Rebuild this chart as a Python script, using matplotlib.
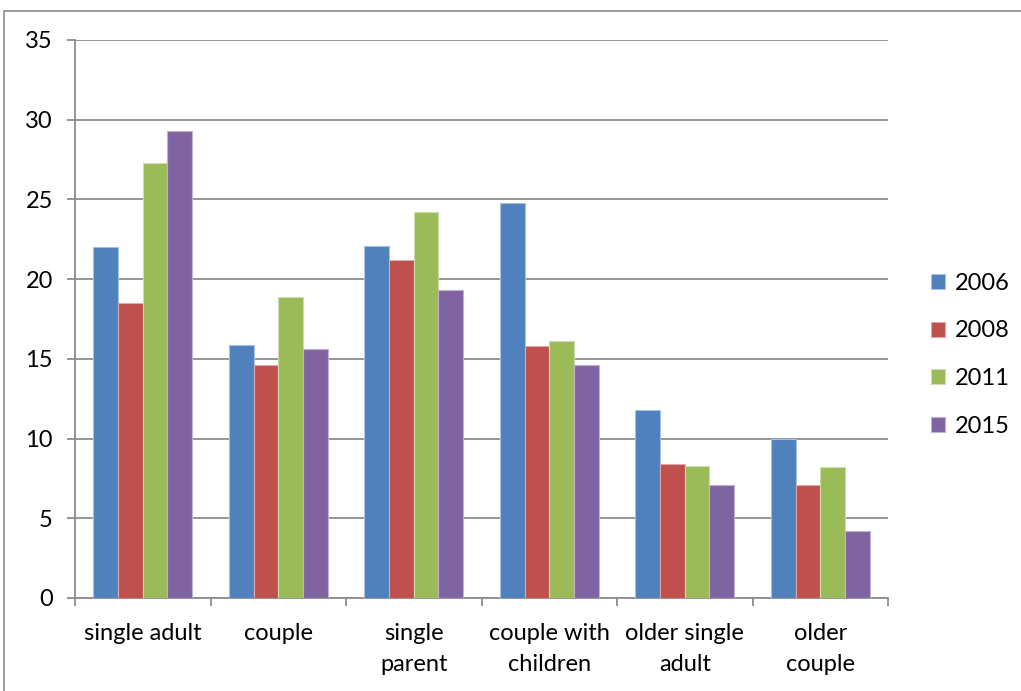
import numpy as np
import matplotlib.pyplot as plt
from matplotlib.patches import Rectangle

plt.rcParams['font.family'] = ['Lato', 'DejaVu Sans']

categories = ["single adult", "couple", "single\nparent", "couple with\nchildren",
              "older single\nadult", "older\ncouple"]
years = ["2006", "2008", "2011", "2015"]
v2006 = [22.0, 15.9, 22.1, 24.8, 11.8, 10.0]
v2008 = [18.5, 14.6, 21.2, 15.8, 8.4, 7.1]
v2011 = [27.3, 18.9, 24.2, 16.1, 8.3, 8.2]
v2015 = [29.3, 15.6, 19.3, 14.6, 7.1, 4.2]
series = [v2006, v2008, v2011, v2015]

colors = ["#4F81BD", "#C0504D", "#9BBB59", "#8064A2"]
edges = ["#A7C0DE", "#E0A8A6", "#CDDDAC", "#BFB1D0"]
grid_c = "#8C8C8C"
fs = 17

fig = plt.figure(figsize=(10.21, 6.91), dpi=100)
ax = fig.add_axes([75 / 1021, 93 / 691, 813 / 1021, 558 / 691])

# chart frame, open on the right and bottom edges
fig.patches.append(Rectangle((4 / 1021, -0.1), 1.2, 1.1 - 11 / 691,
                             transform=fig.transFigure, fill=False,
                             edgecolor="#8C8C8C", linewidth=1.2))

x = np.arange(len(categories))
w = 1 / 5.5
for i, (vals, c, e) in enumerate(zip(series, colors, edges)):
    ax.bar(x + (i - 1.5) * w, vals, width=w, color=c, edgecolor=e,
           linewidth=0.8, label=years[i], zorder=3)

ax.set_xlim(-0.5, len(categories) - 0.5)
ax.set_ylim(0, 35)
ax.set_yticks(np.arange(0, 36, 5))
ax.yaxis.grid(True, color=grid_c, linewidth=1.3, zorder=0)

ax.set_xticks(np.arange(-0.5, len(categories), 1))
ax.set_xticklabels([])
ax.set_xticks(x, minor=True)
ax.set_xticklabels(categories, minor=True, fontsize=fs, linespacing=1.6)
ax.tick_params(axis="x", which="minor", length=0, pad=18)
ax.tick_params(axis="x", which="major", length=6, width=1.3, color=grid_c)
ax.tick_params(axis="y", length=6, width=1.3, color=grid_c, labelsize=fs, pad=10)

for s in ["top", "right"]:
    ax.spines[s].set_visible(False)
for s in ["left", "bottom"]:
    ax.spines[s].set_color(grid_c)
    ax.spines[s].set_linewidth(1.3)

leg = ax.legend(loc="center left", bbox_to_anchor=(1.027, 0.436), frameon=False,
                fontsize=fs, handlelength=0.6, handleheight=0.6,
                handletextpad=0.4, labelspacing=1.13)

fig.savefig("out.png", dpi=100)
